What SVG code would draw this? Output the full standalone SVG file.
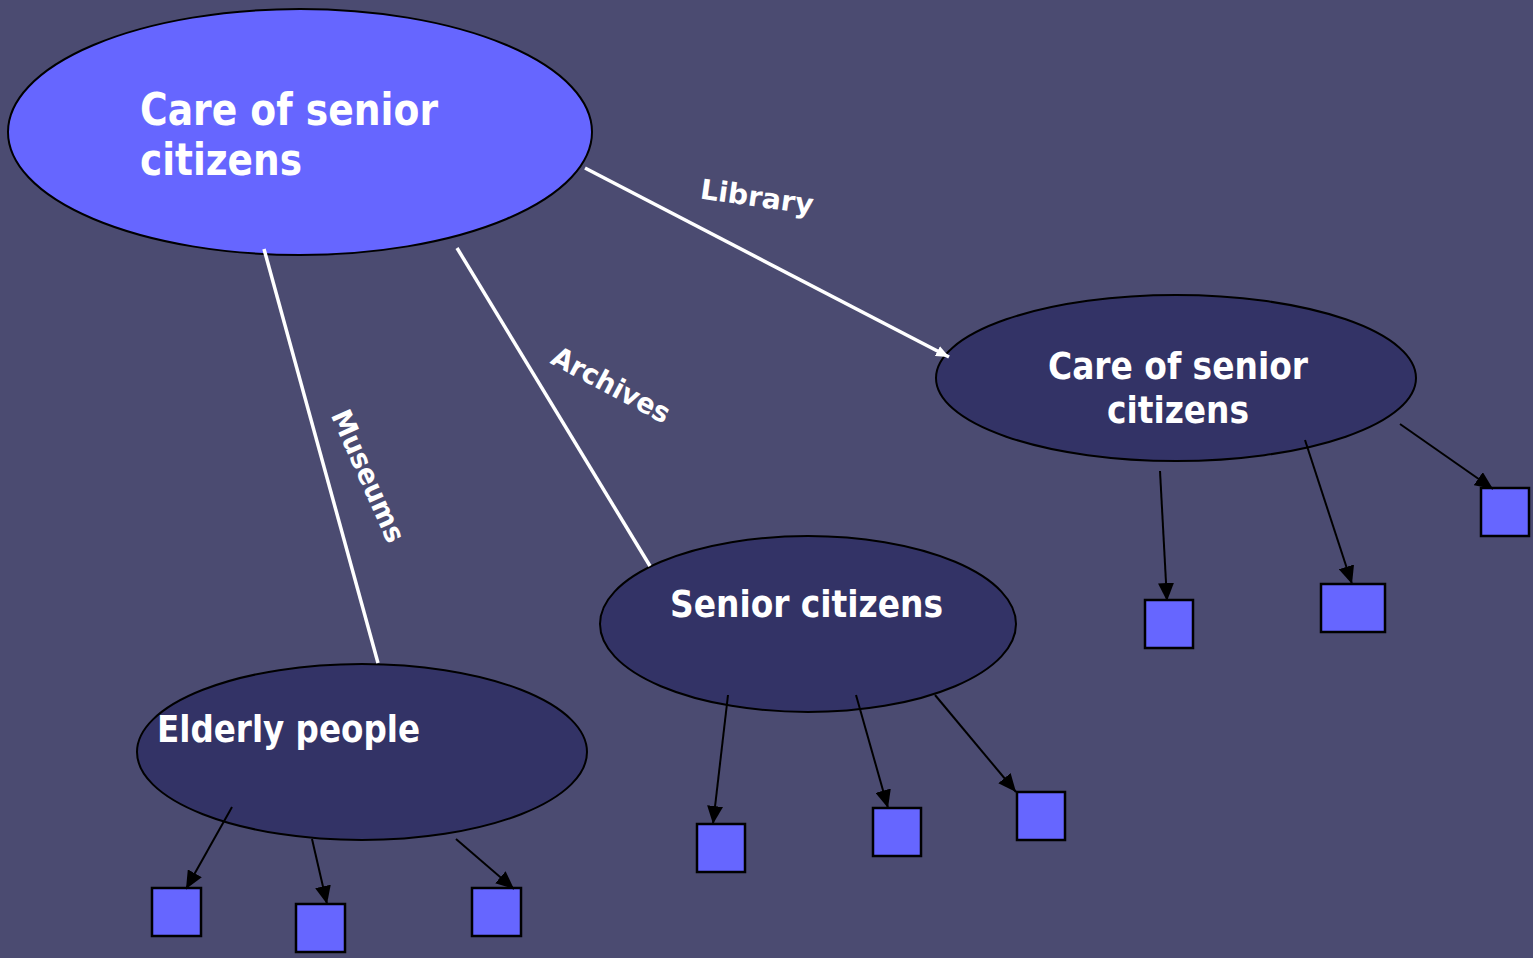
<svg xmlns="http://www.w3.org/2000/svg" width="1533" height="958" viewBox="0 0 1533 958">
<style>
.bg{fill:#4B4B71}
.main{fill:#6666FF;stroke:#000;stroke-width:2}
.sub{fill:#333366;stroke:#000;stroke-width:2}
.box{fill:#6666FF;stroke:#000;stroke-width:2.5}
.t{font-family:"DejaVu Sans Condensed","DejaVu Sans",sans-serif;font-weight:bold;fill:#fff}
.w{stroke:#fff;stroke-width:3.5;fill:none}
.k{stroke:#000;stroke-width:2;fill:none}
</style>
<defs>
<marker id="ak" markerUnits="userSpaceOnUse" markerWidth="18" markerHeight="16" refX="18" refY="8" orient="auto">
<path d="M0,0 L18,8 L0,16 Z" fill="#000"/>
</marker>
<marker id="aw" markerUnits="userSpaceOnUse" markerWidth="13" markerHeight="11" refX="13" refY="5.5" orient="auto">
<path d="M0,0 L13,5.5 L0,11 Z" fill="#fff"/>
</marker>
</defs>
<rect class="bg" x="0" y="0" width="1533" height="958"/>
<g id="node-main">
<ellipse class="main" cx="300" cy="132" rx="292" ry="123"/>
<text class="t" font-size="44" x="140" y="125" textLength="298" lengthAdjust="spacingAndGlyphs">Care of senior</text>
<text class="t" font-size="44" x="140" y="175" textLength="162" lengthAdjust="spacingAndGlyphs">citizens</text>
</g>
<g id="node-care">
<ellipse class="sub" cx="1176" cy="378" rx="240" ry="83"/>
<text class="t" font-size="38" x="1178" y="379" text-anchor="middle" textLength="260" lengthAdjust="spacingAndGlyphs">Care of senior</text>
<text class="t" font-size="38" x="1178" y="423" text-anchor="middle" textLength="142" lengthAdjust="spacingAndGlyphs">citizens</text>
</g>
<g id="node-senior">
<ellipse class="sub" cx="808" cy="624" rx="208" ry="88"/>
<text class="t" font-size="38" x="670" y="617" textLength="273" lengthAdjust="spacingAndGlyphs">Senior citizens</text>
</g>
<g id="node-elderly">
<ellipse class="sub" cx="362" cy="752" rx="225" ry="88"/>
<text class="t" font-size="38" x="157" y="742" textLength="263" lengthAdjust="spacingAndGlyphs">Elderly people</text>
</g>
<g id="box-c1"><rect class="box" x="1145" y="600" width="48" height="48"/></g>
<g id="box-c2"><rect class="box" x="1321" y="584" width="64" height="48"/></g>
<g id="box-c3"><rect class="box" x="1481" y="488" width="48" height="48"/></g>
<g id="box-s1"><rect class="box" x="697" y="824" width="48" height="48"/></g>
<g id="box-s2"><rect class="box" x="873" y="808" width="48" height="48"/></g>
<g id="box-s3"><rect class="box" x="1017" y="792" width="48" height="48"/></g>
<g id="box-e1"><rect class="box" x="152" y="888" width="49" height="48"/></g>
<g id="box-e2"><rect class="box" x="296" y="904" width="49" height="48"/></g>
<g id="box-e3"><rect class="box" x="472" y="888" width="49" height="48"/></g>
<g id="connectors">
<line class="w" x1="585" y1="168" x2="949" y2="357" marker-end="url(#aw)"/>
<line class="w" x1="457" y1="248" x2="650" y2="566"/>
<line class="w" x1="264" y1="249" x2="378" y2="663"/>
<line class="k" x1="1160" y1="471" x2="1167" y2="601" marker-end="url(#ak)"/>
<line class="k" x1="1305" y1="440" x2="1352" y2="584" marker-end="url(#ak)"/>
<line class="k" x1="1400" y1="424" x2="1493" y2="489" marker-end="url(#ak)"/>
<line class="k" x1="728" y1="695" x2="713" y2="824" marker-end="url(#ak)"/>
<line class="k" x1="856" y1="695" x2="888" y2="808" marker-end="url(#ak)"/>
<line class="k" x1="935" y1="695" x2="1016" y2="792" marker-end="url(#ak)"/>
<line class="k" x1="232" y1="807" x2="186" y2="889" marker-end="url(#ak)"/>
<line class="k" x1="312" y1="839" x2="327" y2="904" marker-end="url(#ak)"/>
<line class="k" x1="456" y1="839" x2="514" y2="889" marker-end="url(#ak)"/>
<text class="t" font-size="28" transform="translate(757,197) rotate(8)" text-anchor="middle" dominant-baseline="central" textLength="114" lengthAdjust="spacingAndGlyphs">Library</text>
<text class="t" font-size="28" transform="translate(611,385) rotate(28)" text-anchor="middle" dominant-baseline="central" textLength="130" lengthAdjust="spacingAndGlyphs">Archives</text>
<text class="t" font-size="28" transform="translate(368,476) rotate(66)" text-anchor="middle" dominant-baseline="central" textLength="142" lengthAdjust="spacingAndGlyphs">Museums</text>
</g>
</svg>
